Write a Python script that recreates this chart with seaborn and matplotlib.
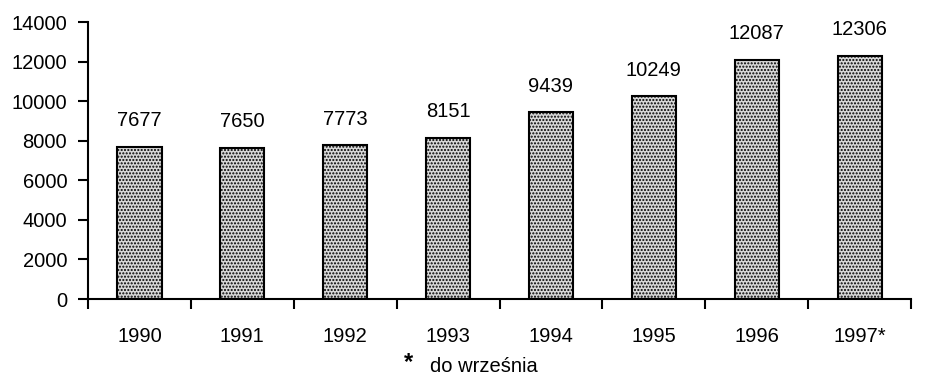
import matplotlib
matplotlib.use("Agg")
import matplotlib.pyplot as plt
import seaborn as sns
import pandas as pd

years = ["1990", "1991", "1992", "1993", "1994", "1995", "1996", "1997*"]
values = [7677, 7650, 7773, 8151, 9439, 10249, 12087, 12306]
yticks = [0, 2000, 4000, 6000, 8000, 10000, 12000, 14000]

sns.set_style("white")
plt.rcParams['font.family'] = ['Liberation Sans', 'DejaVu Sans']
plt.rcParams['hatch.color'] = '#333333'
plt.rcParams['hatch.linewidth'] = 1.0
for k in ['text.color', 'axes.labelcolor', 'xtick.color', 'ytick.color']:
    plt.rcParams[k] = 'black'

df = pd.DataFrame({"year": years, "value": values})

fig = plt.figure(figsize=(9.29, 3.74), dpi=100)
ax = fig.add_axes([0.0947, 0.2005, 0.886, 0.7405])
sns.barplot(data=df, x="year", y="value", ax=ax, color="#d8d8d8", width=0.43,
            edgecolor="black", linewidth=1.5, saturation=1)
for p in ax.patches:
    p.set_hatch('.....')

ax.set_xlim(-0.5, len(years) - 0.5)
ax.set_ylim(0, 14000)
ax.set_yticks(yticks)
ax.set_xlabel("")
ax.set_ylabel("")
for s in ["top", "right"]:
    ax.spines[s].set_visible(False)
for s in ["left", "bottom"]:
    ax.spines[s].set_linewidth(1.5)
    ax.spines[s].set_color("black")

fs = 14.5
ax.tick_params(axis="y", which="both", left=True, direction="out", length=7, width=1.5,
               labelsize=fs, pad=8, colors="black")
ax.set_xticks([i + 0.5 for i in range(-1, len(years))], minor=True)
ax.set_xticks(range(len(years)))
ax.set_xticklabels(years)
ax.tick_params(axis="x", which="major", bottom=False, labelsize=fs, pad=17, colors="black")
ax.tick_params(axis="x", which="minor", bottom=True, direction="out", length=7, width=1.5,
               colors="black")

for i, v in enumerate(values):
    ax.annotate(str(v), (i, v), xytext=(0, 12), textcoords="offset points",
                ha="center", va="bottom", fontsize=fs, color="black")

fig.text(0.440, 0.030, "*", fontsize=17, fontweight="bold", ha="center", va="center",
         color="black")
fig.text(0.463, 0.021, "do września", fontsize=14.5, ha="left", va="center", color="black")

fig.savefig("out.png", dpi=100)
